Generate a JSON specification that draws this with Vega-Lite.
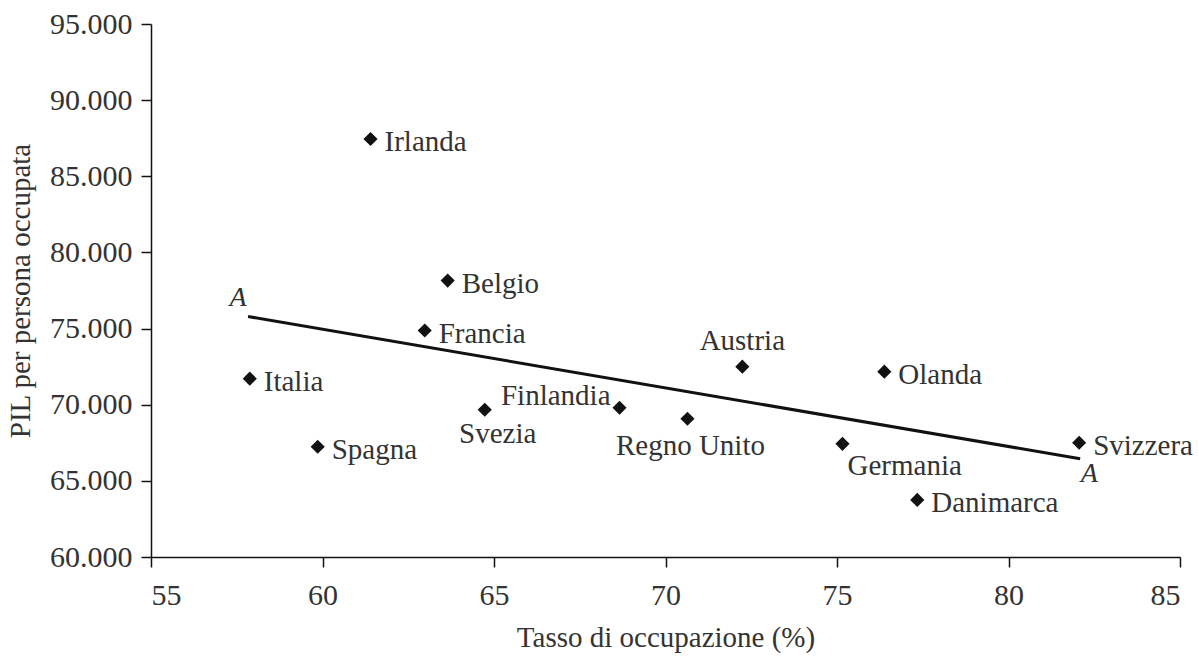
{
  "$schema": "https://vega.github.io/schema/vega-lite/v6.json",
  "width": 1029,
  "height": 533,
  "autosize": {"type": "none"},
  "padding": {"left": 151, "top": 24, "right": 19, "bottom": 102},
  "background": "white",
  "config": {
    "view": {"stroke": null},
    "font": "Liberation Serif",
    "axis": {
      "grid": false,
      "domainColor": "#111",
      "domainWidth": 1.5,
      "tickColor": "#111",
      "tickWidth": 1.5,
      "tickSize": 10,
      "labelFont": "Liberation Serif",
      "labelFontSize": 30,
      "labelColor": "#333",
      "titleFont": "Liberation Serif",
      "titleFontSize": 29,
      "titleFontWeight": "normal",
      "titleColor": "#333"
    }
  },
  "datasets": {
    "paesi": [
      {"paese": "Irlanda", "tasso": 61.4, "pil": 87450},
      {"paese": "Belgio", "tasso": 63.65, "pil": 78150},
      {"paese": "Francia", "tasso": 62.98, "pil": 74870},
      {"paese": "Italia", "tasso": 57.88, "pil": 71710},
      {"paese": "Spagna", "tasso": 59.86, "pil": 67240},
      {"paese": "Svezia", "tasso": 64.73, "pil": 69670},
      {"paese": "Finlandia", "tasso": 68.66, "pil": 69800},
      {"paese": "Regno Unito", "tasso": 70.64, "pil": 69080},
      {"paese": "Austria", "tasso": 72.24, "pil": 72500},
      {"paese": "Olanda", "tasso": 76.38, "pil": 72170},
      {"paese": "Germania", "tasso": 75.16, "pil": 67430},
      {"paese": "Danimarca", "tasso": 77.34, "pil": 63750},
      {"paese": "Svizzera", "tasso": 82.06, "pil": 67500}
    ],
    "retta": [
      {"estremo": "inizio", "tasso": 57.83, "pil": 75790, "etichetta": "A"},
      {"estremo": "fine", "tasso": 82.09, "pil": 66450, "etichetta": "A"}
    ]
  },
  "encoding": {
    "x": {
      "field": "tasso", "type": "quantitative",
      "scale": {"domain": [55, 85], "nice": false, "zero": false},
      "axis": {"values": [55, 60, 65, 70, 75, 80, 85], "title": "Tasso di occupazione (%)", "labelPadding": 13, "titlePadding": 13}
    },
    "y": {
      "field": "pil", "type": "quantitative",
      "scale": {"domain": [60000, 95000], "nice": false, "zero": false},
      "axis": {
        "values": [60000, 65000, 70000, 75000, 80000, 85000, 90000, 95000],
        "labelExpr": "replace(format(datum.value, ','), ',', '.')",
        "title": "PIL per persona occupata",
        "labelPadding": 9,
        "titlePadding": 14
      }
    }
  },
  "layer": [
    {
      "data": {"name": "retta"},
      "mark": {"type": "line", "color": "#111", "strokeWidth": 3},
      "encoding": {}
    },
    {
      "data": {"name": "retta"},
      "transform": [{"filter": "datum.estremo == 'inizio'"}],
      "mark": {"type": "text", "font": "Liberation Serif", "fontStyle": "italic", "fontSize": 28, "color": "#333", "dx": -10, "dy": -19},
      "encoding": {"text": {"field": "etichetta"}}
    },
    {
      "data": {"name": "retta"},
      "transform": [{"filter": "datum.estremo == 'fine'"}],
      "mark": {"type": "text", "font": "Liberation Serif", "fontStyle": "italic", "fontSize": 28, "color": "#333", "dx": 9, "dy": 15},
      "encoding": {"text": {"field": "etichetta"}}
    },
    {
      "data": {"name": "paesi"},
      "mark": {"type": "point", "shape": "diamond", "filled": true, "color": "#111", "size": 200, "opacity": 1},
      "encoding": {}
    },
    {
      "data": {"name": "paesi"},
      "transform": [{"filter": {"field": "paese", "oneOf": ["Irlanda", "Belgio", "Francia", "Italia", "Spagna", "Olanda", "Danimarca", "Svizzera"]}}],
      "mark": {"type": "text", "align": "left", "baseline": "middle", "dx": 14, "dy": 3, "font": "Liberation Serif", "fontSize": 29, "color": "#333"},
      "encoding": {"text": {"field": "paese"}}
    },
    {
      "data": {"name": "paesi"},
      "transform": [{"filter": "datum.paese == 'Austria'"}],
      "mark": {"type": "text", "align": "center", "baseline": "middle", "dx": 0, "dy": -26, "font": "Liberation Serif", "fontSize": 29, "color": "#333"},
      "encoding": {"text": {"field": "paese"}}
    },
    {
      "data": {"name": "paesi"},
      "transform": [{"filter": "datum.paese == 'Svezia'"}],
      "mark": {"type": "text", "align": "center", "baseline": "middle", "dx": 13, "dy": 24, "font": "Liberation Serif", "fontSize": 29, "color": "#333"},
      "encoding": {"text": {"field": "paese"}}
    },
    {
      "data": {"name": "paesi"},
      "transform": [{"filter": "datum.paese == 'Regno Unito'"}],
      "mark": {"type": "text", "align": "center", "baseline": "middle", "dx": 3, "dy": 27, "font": "Liberation Serif", "fontSize": 29, "color": "#333"},
      "encoding": {"text": {"field": "paese"}}
    },
    {
      "data": {"name": "paesi"},
      "transform": [{"filter": "datum.paese == 'Finlandia'"}],
      "mark": {"type": "text", "align": "right", "baseline": "middle", "dx": -9, "dy": -12, "font": "Liberation Serif", "fontSize": 29, "color": "#333"},
      "encoding": {"text": {"field": "paese"}}
    },
    {
      "data": {"name": "paesi"},
      "transform": [{"filter": "datum.paese == 'Germania'"}],
      "mark": {"type": "text", "align": "left", "baseline": "middle", "dx": 5, "dy": 22, "font": "Liberation Serif", "fontSize": 29, "color": "#333"},
      "encoding": {"text": {"field": "paese"}}
    }
  ]
}
